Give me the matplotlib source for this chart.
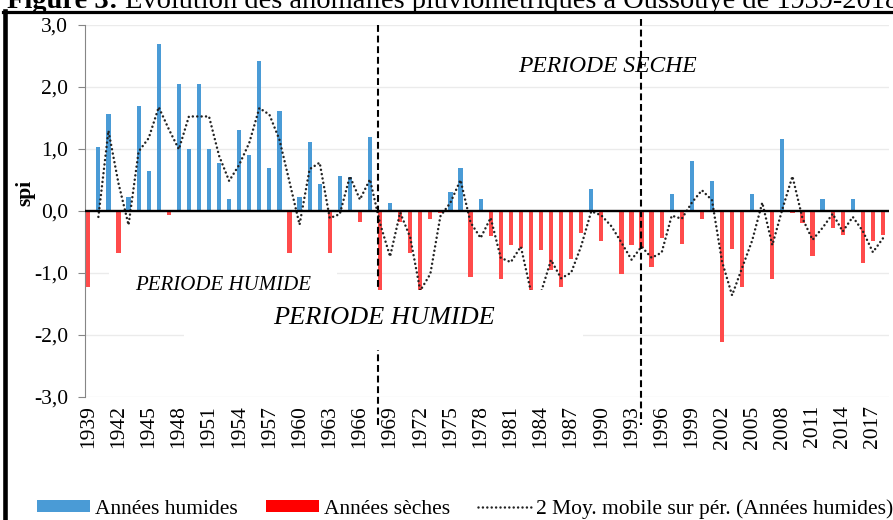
import matplotlib
matplotlib.use("Agg")
import matplotlib.pyplot as plt
import pandas as pd
from matplotlib.patches import Patch, Rectangle
from matplotlib.lines import Line2D

# SPI par année (Oussouye 1939-2018)
years = list(range(1939, 2019))
spi = [-1.22, 1.03, 1.56, -0.67, 0.22, 1.70, 0.65, 2.70, -0.06, 2.05,
       1.00, 2.05, 1.00, 0.78, 0.19, 1.30, 0.90, 2.42, 0.69, 1.61,
       -0.67, 0.23, 1.12, 0.44, -0.67, 0.57, 0.55, -0.18, 1.20, -1.60,
       0.13, -0.18, -0.67, -1.90, -0.13, -0.04, 0.31, 0.69, -1.06, 0.19,
       -0.41, -1.10, -0.55, -0.60, -2.00, -0.63, -0.95, -1.22, -0.77, -0.36,
       0.35, -0.49, 0.00, -1.02, -0.55, -0.60, -0.91, -0.43, 0.28, -0.53,
       0.80, -0.13, 0.48, -2.11, -0.61, -1.22, 0.27, 0.00, -1.10, 1.16,
       -0.04, -0.20, -0.73, 0.19, -0.28, -0.38, 0.19, -0.84, -0.49, -0.39]
xtick_years = list(range(1939, 2018, 3))
yticks = [-3, -2, -1, 0, 1, 2, 3]
legend_labels = ["Années humides", "Années sèches",
                 "2 Moy. mobile sur pér. (Années humides)"]

BLUE = "#4a9bd6"
RED = "#ff4b4b"
DOT = "#222222"
DOTSTYLE = (0, (0.01, 1.75))

plt.rcParams["font.family"] = ["Liberation Serif", "DejaVu Serif"]

fig = plt.figure(figsize=(8.93, 5.2), dpi=100)
ax = fig.add_axes([85 / 893, 1 - 397 / 520, (889 - 85) / 893, (397 - 25) / 520])

s = pd.Series(spi, index=years)
ma = s.rolling(2).mean()

colors = [BLUE if v > 0 else RED for v in spi]
ax.bar(years, spi, width=0.42, color=colors, zorder=2)
ax.plot(years, ma.values, color=DOT, lw=1.8, linestyle=DOTSTYLE,
        dash_capstyle="round", zorder=3)
ax.axhline(0, color="black", lw=1.7, zorder=4)

# limites des périodes
for xv, top in [(1967.75, 3.0), (1993.95, 3.1)]:
    ax.plot([xv, xv], [top, -3.45], color="black", lw=1.5, dashes=(3.3, 1.8),
            clip_on=False, zorder=4)

# cadres blancs des étiquettes (masquent une partie du graphe)
ax.add_patch(Rectangle((1948.55, -2.24), 39.6, 0.97, facecolor="white",
                       edgecolor="none", zorder=5))
ax.add_patch(Rectangle((1941.1, -1.4), 22.6, 0.55, facecolor="white",
                       edgecolor="none", zorder=5))
ax.text(1952.4, -1.27, "PERIODE HUMIDE", style="italic", fontsize=15,
        ha="center", va="baseline", zorder=6)
ax.text(1968.35, -1.82, "PERIODE HUMIDE", style="italic", fontsize=19,
        ha="center", va="baseline", zorder=6)
ax.text(1990.6, 2.24, "PERIODE SECHE", style="italic", fontsize=17,
        ha="center", va="baseline", zorder=6)

ax.set_xlim(1938.67, 2018.6)
ax.set_ylim(-3, 3)
ax.set_yticks(yticks)
ax.set_yticklabels([f"{v:.1f}".replace(".", ",") for v in yticks])
ax.set_xticks(xtick_years)
ax.set_xticklabels([str(y) for y in xtick_years])
ax.tick_params(axis="y", length=5, color="#868686", pad=7, labelsize=15.5)
ax.tick_params(axis="x", length=0, pad=6, labelsize=15.5, labelrotation=90)
ax.yaxis.grid(True, color="#ebebeb", lw=1)
ax.set_axisbelow(True)
for side in ["top", "right", "bottom"]:
    ax.spines[side].set_visible(False)
ax.spines["left"].set_color("#868686")

fig.text(25 / 893, 1 - 193 / 520, "spi", rotation=90, fontweight="bold",
         fontsize=15.5, ha="center", va="center")

handles = [Patch(facecolor=BLUE), Patch(facecolor="#ff0000"),
           Line2D([], [], color=DOT, lw=1.8, linestyle=DOTSTYLE,
                  dash_capstyle="round")]
fig.legend(handles, legend_labels, loc="center left",
           bbox_to_anchor=(37 / 893, 1 - 509 / 520), ncol=3, frameon=False,
           fontsize=15.5, handlelength=2.45, handleheight=0.5,
           handletextpad=0.25, columnspacing=1.3, borderpad=0, borderaxespad=0)

# cadre de la figure
fig.add_artist(Line2D([5 / 893, 5 / 893], [0, 1 - 11 / 520], transform=fig.transFigure,
                      color="black", lw=3.3))
fig.add_artist(Line2D([3 / 893, 1], [1 - 12.3 / 520, 1 - 12.3 / 520],
                      transform=fig.transFigure, color="black", lw=2.3))

# titre (coupé en haut, comme dans l'original)
t1 = fig.text(7 / 893, 1 - 8.5 / 520, "Figure 3: ", fontweight="bold",
              fontsize=20.5, ha="left", va="baseline")
fig.canvas.draw()
bb = t1.get_window_extent()
fig.text(bb.x1 / fig.bbox.width, 1 - 8.5 / 520,
         "Evolution des anomalies pluviométriques à Oussouye de 1939-2018",
         fontsize=20.5, ha="left", va="baseline")

fig.savefig("out.png", dpi=100)
